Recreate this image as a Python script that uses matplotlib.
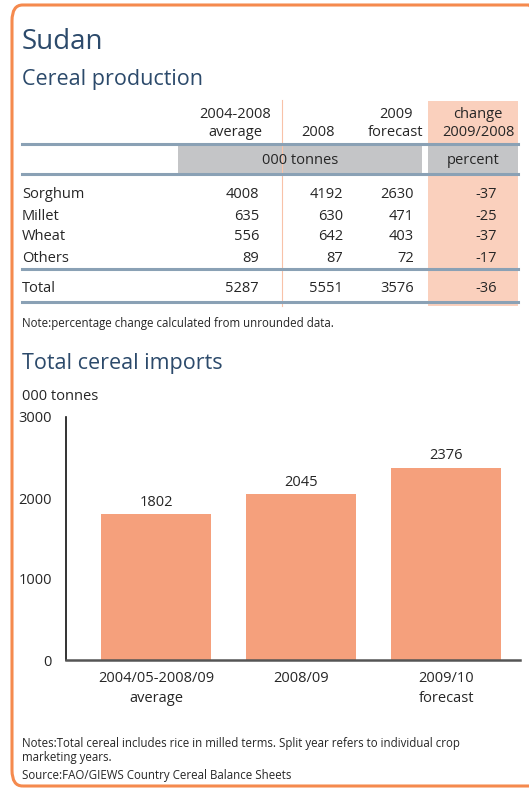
import matplotlib.pyplot as plt
from matplotlib.patches import Rectangle, FancyBboxPatch
from matplotlib.lines import Line2D

W, H = 529, 791

# table data
crops = ['Sorghum', 'Millet', 'Wheat', 'Others']
avg_0408 = [4008, 635, 556, 89]
prod_2008 = [4192, 630, 642, 87]
fc_2009 = [2630, 471, 403, 72]
change_pct = [-37, -25, -37, -17]
totals = [5287, 5551, 3576, -36]

# imports data
imp_labels = ['2004/05-2008/09\naverage', '2008/09', '2009/10\nforecast']
imp_values = [1802, 2045, 2376]

title_col = '#2c4a6b'
txt_col = '#262626'
line_col = '#8aa1b5'
salmon = '#fad0bd'
gray = '#c4c5c7'
bar_col = '#f5a07c'
border_col = '#f58a4e'

plt.rcParams['font.family'] = ['Open Sans', 'DejaVu Sans']

fig = plt.figure(figsize=(W / 100, H / 100), dpi=100)

FS = 10.5  # table font size


def fx(x):
    return x / W


def fy(y):
    return 1 - y / H


def txt(x, y, s, **kw):
    kw.setdefault('color', txt_col)
    kw.setdefault('va', 'center')
    fig.text(fx(x), fy(y), s, **kw)


def hline(y, x0=22, x1=518, lw=2.2, color=line_col):
    fig.add_artist(Line2D([fx(x0), fx(x1)], [fy(y), fy(y)], lw=lw, color=color))


def rect(x0, y0, x1, y1, color):
    fig.add_artist(Rectangle((fx(x0), fy(y1)), fx(x1) - fx(x0), fy(y0) - fy(y1),
                             facecolor=color, edgecolor='none'))


# frame
fig.add_artist(FancyBboxPatch((fx(12), fy(786)), fx(540) - fx(12), fy(5) - fy(786),
                              boxstyle='round,pad=0,rounding_size=0.02',
                              facecolor='none', edgecolor=border_col, lw=2.2))

txt(22, 42, 'Sudan', fontsize=20, color=title_col)
txt(22, 80, 'Cereal production', fontsize=15.5, color=title_col)

# shaded column and bands
rect(428, 101, 518, 306, salmon)
fig.add_artist(Line2D([fx(282), fx(282)], [fy(100), fy(306)], lw=0.8, color='#f8c2a8'))
rect(178, 146, 422, 173, gray)
rect(428, 146, 518, 173, gray)
hline(144)
hline(174)
hline(269)
hline(302)

# headers
txt(235, 114, '2004-2008', fontsize=FS, ha='center')
txt(235, 133, 'average', fontsize=FS, ha='center')
txt(318, 133, '2008', fontsize=FS, ha='center')
txt(396, 114, '2009', fontsize=FS, ha='center')
txt(396, 133, 'forecast', fontsize=FS, ha='center')
txt(478, 114, 'change', fontsize=FS, ha='center')
txt(478, 133, '2009/2008', fontsize=FS, ha='center')
txt(300, 160, '000 tonnes', fontsize=FS, ha='center')
txt(473, 160, 'percent', fontsize=FS, ha='center')

row_y = [195, 216, 237, 258]
for i, c in enumerate(crops):
    y = row_y[i]
    txt(22, y, c, fontsize=FS)
    txt(259, y, str(avg_0408[i]), fontsize=FS, ha='right')
    txt(343, y, str(prod_2008[i]), fontsize=FS, ha='right')
    txt(414, y, str(fc_2009[i]), fontsize=FS, ha='right')
    txt(497, y, str(change_pct[i]), fontsize=FS, ha='right')

txt(22, 288, 'Total', fontsize=FS)
for x, v in zip([259, 343, 414, 497], totals):
    txt(x, 288, str(v), fontsize=FS, ha='right')

txt(22, 323, 'Note:percentage change calculated from unrounded data.', fontsize=8.3)

txt(22, 363, 'Total cereal imports', fontsize=15.5, color=title_col)
txt(22, 397, '000 tonnes', fontsize=FS)

# bar chart
ax = fig.add_axes([fx(66), fy(660), fx(520) - fx(66), fy(417) - fy(660)])
xs = range(len(imp_values))
bars = ax.bar(xs, imp_values, width=0.76, color=bar_col)
for b, v in zip(bars, imp_values):
    ax.text(b.get_x() + b.get_width() / 2, v + 50, str(v), ha='center', va='bottom',
            fontsize=FS, color=txt_col)
ax.set_ylim(0, 3000)
ax.set_xlim(-0.62, 2.51)
ax.set_yticks([0, 1000, 2000, 3000])
ax.tick_params(axis='y', length=0, pad=10, labelsize=FS, labelcolor=txt_col)
ax.set_xticks(list(xs))
ax.set_xticklabels(imp_labels, fontsize=FS, color=txt_col, linespacing=1.4)
ax.tick_params(axis='x', length=0, pad=8)
for s in ['top', 'right']:
    ax.spines[s].set_visible(False)
ax.spines['left'].set_color('#111111')
ax.spines['left'].set_linewidth(1.2)
ax.spines['bottom'].set_color('#555555')
ax.spines['bottom'].set_linewidth(1.8)
ax.set_facecolor('none')

txt(22, 743, 'Notes:Total cereal includes rice in milled terms. Split year refers to individual crop',
    fontsize=8.3)
txt(22, 758, 'marketing years.', fontsize=8.3)
txt(22, 775, 'Source:FAO/GIEWS Country Cereal Balance Sheets', fontsize=8.3)

fig.savefig('out.png', dpi=100)
